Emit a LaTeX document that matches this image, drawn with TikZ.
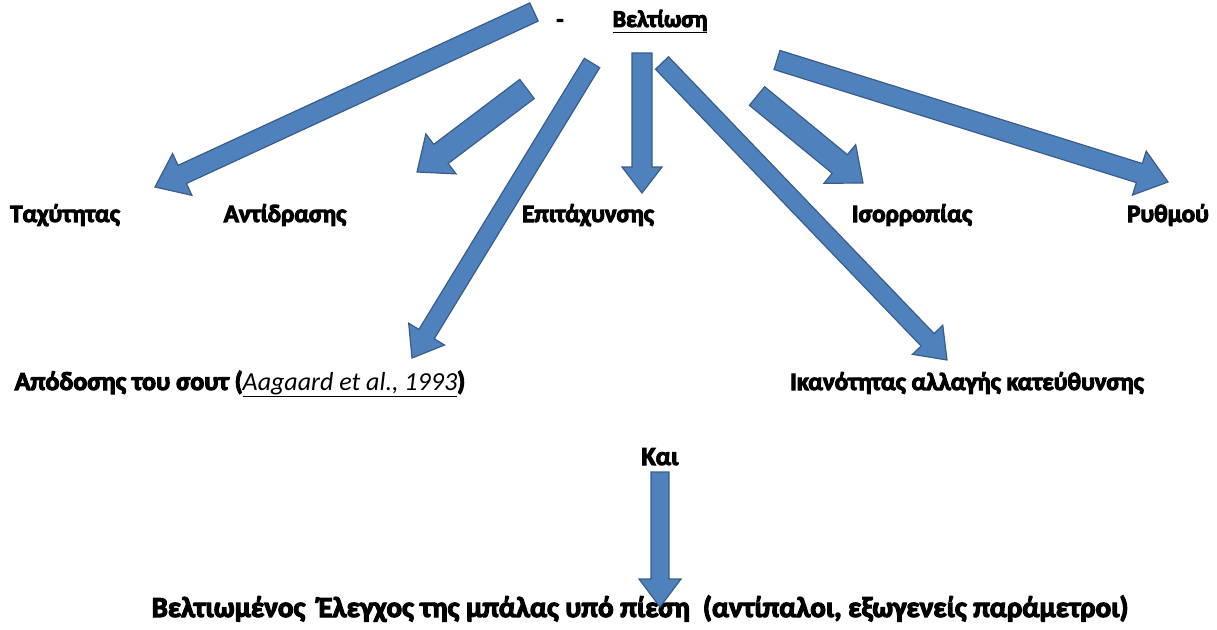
\documentclass[tikz,border=0pt]{standalone}
\usepackage{fontspec}
\setmainfont{Carlito}
\newfontfamily\heavyfont[FakeBold=4]{Carlito Bold}
\usetikzlibrary{calc}

\definecolor{arrowfill}{HTML}{4F81BD}
\definecolor{arrowline}{HTML}{385D8A}

\tikzset{
	lbl/.style={font=\heavyfont\fontsize{#1}{#1}\selectfont, inner sep=0pt, anchor=base},
	lbl/.default=25,
	barrow/.style={fill=arrowfill, draw=arrowline, line width=1.2pt, line join=miter}
}

% block arrow: start, tip, shaft half width, head half width, head length
\newcommand{\blockarrow}[5]{%
	\coordinate (hb) at ($(#2)!#5!(#1)$);
	\draw[barrow] ($(#1)!#3!90:(#2)$) -- ($(hb)!#3!90:(#2)$)
		-- ($(hb)!#4!90:(#2)$) -- (#2) -- ($(hb)!#4!-90:(#2)$)
		-- ($(hb)!#3!-90:(#2)$) -- ($(#1)!#3!-90:(#2)$) -- cycle;
}

\begin{document}
\begin{tikzpicture}[x=1pt, y=-1pt]
	\useasboundingbox (0,0) rectangle (1217,629);

	\node[lbl=23] (dash) at (560,27) {-};
	\node[lbl=24] (title) at (660,27) {\underline{Βελτίωση}};

	\node[lbl] (speed) at (65,222) {Ταχύτητας};
	\node[lbl] (react) at (285,222) {Αντίδρασης};
	\node[lbl] (accel) at (588,222) {Επιτάχυνσης};
	\node[lbl] (balance) at (912,222) {Ισορροπίας};
	\node[lbl] (rhythm) at (1168,222) {Ρυθμού};
	\node[lbl=26] (shot) at (240,390) {Απόδοσης του σουτ (\underline{\normalfont\itshape Aagaard et al., 1993})};
	\node[lbl] (turn) at (967,390) {Ικανότητας αλλαγής κατεύθυνσης};
	\node[lbl=26] (and) at (660,465) {Και};
	\node[lbl=29] (control) at (640,617) {Βελτιωμένος \ Έλεγχος της μπάλας υπό πίεση \ (αντίπαλοι, εξωγενείς παράμετροι)};

	% arrow ends
	\coordinate (s1) at (534,12);   \coordinate (t1) at (155,187);
	\coordinate (s2) at (527,89);   \coordinate (t2) at (417,172);
	\coordinate (s3) at (592,63);   \coordinate (t3) at (412,358);
	\coordinate (s4) at (642,53);   \coordinate (t4) at (642,193);
	\coordinate (s5) at (662,63);   \coordinate (t5) at (947,360);
	\coordinate (s6) at (757,96);   \coordinate (t6) at (863,183);
	\coordinate (s7) at (777,60);   \coordinate (t7) at (1168,182);
	\coordinate (s8) at (660,472);  \coordinate (t8) at (660,607);

	\blockarrow{s1}{t1}{10pt}{23pt}{30pt}
	\blockarrow{s2}{t2}{12pt}{25pt}{30pt}
	\blockarrow{s3}{t3}{9pt}{21pt}{28pt}
	\blockarrow{s4}{t4}{10pt}{20pt}{26pt}
	\blockarrow{s5}{t5}{9pt}{21pt}{28pt}
	\blockarrow{s6}{t6}{12pt}{25pt}{30pt}
	\blockarrow{s7}{t7}{10pt}{23pt}{30pt}
	\blockarrow{s8}{t8}{9pt}{21pt}{28pt}
\end{tikzpicture}
\end{document}
